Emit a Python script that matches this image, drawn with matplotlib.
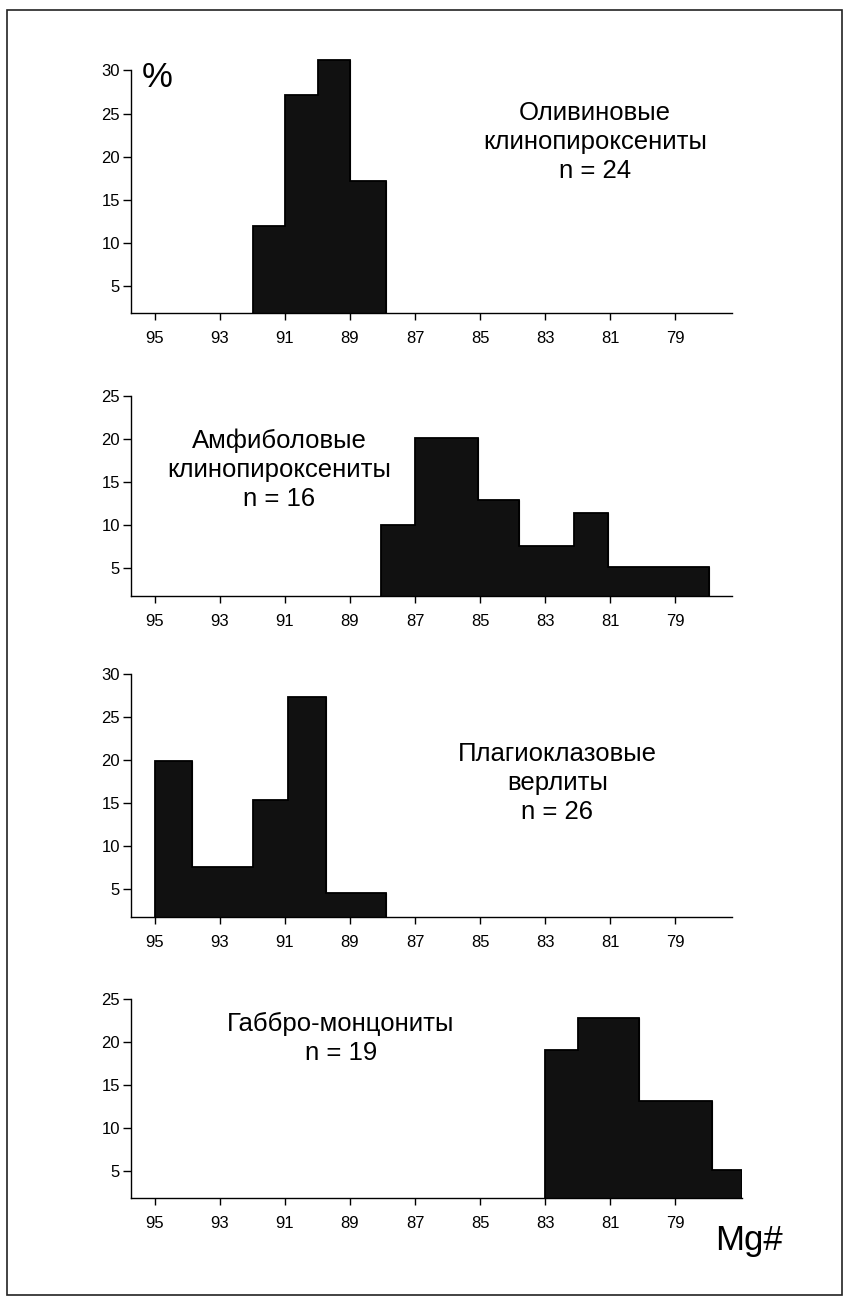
import matplotlib
matplotlib.use("Agg")
import matplotlib.pyplot as plt
import numpy as np
from matplotlib.patches import Rectangle

# Mg# bin edges and percentages for each rock type
olv_edges = [92.0, 91.0, 90.0, 89.0, 87.9]
olv_pct = [11.9, 27.2, 31.2, 17.2]

amf_edges = [88.05, 87.0, 85.05, 83.8, 82.1, 81.05, 77.95]
amf_pct = [10.0, 20.1, 13.0, 7.55, 11.45, 5.2]

plg_edges = [95.0, 93.85, 92.0, 90.9, 89.75, 87.9]
plg_pct = [19.9, 7.55, 15.35, 27.35, 4.6]

gab_edges = [83.0, 82.0, 80.1, 77.85, 76.95]
gab_pct = [19.0, 22.7, 13.1, 5.1]

labels = [
    ["Оливиновые", "клинопироксениты", "n = 24"],
    ["Амфиболовые", "клинопироксениты", "n = 16"],
    ["Плагиоклазовые", "верлиты", "n = 26"],
    ["Габбро-монцониты", "n = 19"],
]
xticks = [95, 93, 91, 89, 87, 85, 83, 81, 79]

plt.rcParams["font.family"] = ["Liberation Sans", "DejaVu Sans"]

W, H = 847, 1301
fig = plt.figure(figsize=(W / 100, H / 100), dpi=100)

# layout in pixels
AX_LEFT = 131
PX_X = 32.5          # px per Mg# unit
X_LEFT, X_RIGHT = 95.74, 76.95
PX_Y = 8.61          # px per percent
Y_BOT = 1.8
ax_width = (X_LEFT - X_RIGHT) * PX_X

panels = [
    (olv_edges, olv_pct, 313.3, 31.5, 30, 77.26, (81.46, 24.27)),
    (amf_edges, amf_pct, 596.0, 25.5, 25, 77.26, (91.18, 18.96)),
    (plg_edges, plg_pct, 916.7, 31.5, 30, 77.26, (82.62, 19.93)),
    (gab_edges, gab_pct, 1198.3, 25.5, 25, 76.95, (89.28, 21.19)),
]

LINE_STEP = 29 / PX_Y

axes = []
for i, (edges, pct, axis_y, ytop, ymax_tick, xend, txt) in enumerate(panels):
    h = (ytop - Y_BOT) * PX_Y
    ax = fig.add_axes([AX_LEFT / W, (H - axis_y) / H, ax_width / W, h / H])
    ax.set_xlim(X_LEFT, X_RIGHT)
    ax.set_ylim(Y_BOT, ytop)

    e = np.array(edges)
    ax.bar(e[:-1], pct, width=np.diff(e), align="edge",
           color="#111111", edgecolor="#111111", linewidth=0.8, zorder=2)
    # outline of the whole histogram
    ax.stairs(pct, edges, baseline=Y_BOT, color="black", linewidth=1.3, zorder=3)

    for s in ("top", "right"):
        ax.spines[s].set_visible(False)
    ax.spines["left"].set_bounds(Y_BOT, ymax_tick)
    ax.spines["bottom"].set_bounds(xend, X_LEFT)
    for s in ("left", "bottom"):
        ax.spines[s].set_linewidth(1.0)

    ax.set_xticks(xticks)
    ax.set_xticklabels([str(t) for t in xticks])
    ax.set_yticks(list(range(5, ymax_tick + 1, 5)))
    ax.tick_params(axis="x", direction="out", length=5, width=1, pad=8, labelsize=12)
    ax.tick_params(axis="y", direction="out", length=6, width=1, pad=2, labelsize=12)

    tx, ty = txt
    for k, line in enumerate(labels[i]):
        ax.text(tx, ty - k * LINE_STEP, line, ha="center", va="baseline",
                fontsize=18.5)
    axes.append(ax)

axes[0].text(95.4, 28.14, "%", ha="left", va="baseline", fontsize=25)
axes[3].text(77.77, -4.24, "Mg#", ha="left", va="baseline", fontsize=25,
             clip_on=False)

# outer frame
fig.patches.append(Rectangle((7 / W, (H - 1295) / H), (842 - 7) / W, (1295 - 10) / H,
                             transform=fig.transFigure, fill=False,
                             edgecolor="#222222", linewidth=1.2))

fig.savefig("out.png", dpi=100)
